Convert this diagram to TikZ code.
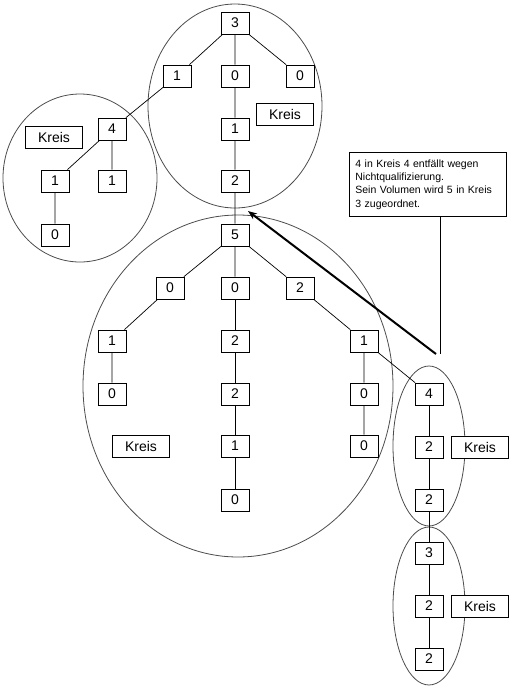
\documentclass[tikz,border=0pt]{standalone}
\usepackage{fontspec}
\setmainfont{Liberation Sans}
\usetikzlibrary{arrows.meta}
\begin{document}
\begin{tikzpicture}[x=1pt, y=-1pt, line width=0.7pt,
	every node/.style={font=\fontsize{14}{16}\selectfont},
	kbox/.style={draw, fill=white, minimum width=28pt, minimum height=22pt, inner sep=0pt},
	kreis/.style={draw, fill=white, minimum width=57pt, minimum height=22pt, inner sep=0pt},
	ring/.style={draw=black!70, line width=0.8pt}]
	% \kbox#name#x#y#value
	\def\kbox#1#2#3#4{
		\node[kbox] (#1) at (#2, #3) {#4};
	}
	
	% \ring#x#y#xradius#yradius
	\def\ring#1#2#3#4{
		\draw[ring] (#1, #2) ellipse [x radius=#3pt, y radius=#4pt];
	}
	
	\useasboundingbox (0, 0) rectangle (514, 689);
	
	% circles
	\ring{235}{106}{87}{102}
	\ring{80}{178}{77}{84}
	\ring{238}{386}{155}{171}
	\ring{429}{446}{36}{80}
	\ring{429}{606}{36}{79}
	
	% top circle
	\kbox{a0}{235}{23}{3}
	\kbox{a1}{177}{76}{1}
	\kbox{a2}{235}{76}{0}
	\kbox{a3}{300}{76}{0}
	\kbox{a4}{235}{129}{1}
	\kbox{a5}{235}{181}{2}
	\node[kreis] (ka) at (285, 114) {Kreis};
	
	% left circle
	\kbox{b0}{112}{129}{4}
	\kbox{b1}{55}{181}{1}
	\kbox{b2}{112}{181}{1}
	\kbox{b3}{55}{235}{0}
	\node[kreis] (kb) at (54, 137) {Kreis};
	
	% big circle
	\kbox{c0}{235}{235}{5}
	\kbox{c1}{170}{288}{0}
	\kbox{c2}{235}{288}{0}
	\kbox{c3}{300}{288}{2}
	\kbox{c4}{112}{341}{1}
	\kbox{c5}{112}{394}{0}
	\kbox{c6}{235}{341}{2}
	\kbox{c7}{235}{394}{2}
	\kbox{c8}{235}{446}{1}
	\kbox{c9}{235}{500}{0}
	\kbox{c10}{364}{341}{1}
	\kbox{c11}{364}{394}{0}
	\kbox{c12}{364}{446}{0}
	\node[kreis] (kc) at (141, 446) {Kreis};
	
	% right ellipses
	\kbox{d0}{429}{394}{4}
	\kbox{d1}{429}{447}{2}
	\kbox{d2}{429}{500}{2}
	\node[kreis] (kd) at (480, 447) {Kreis};
	\kbox{e0}{429}{553}{3}
	\kbox{e1}{429}{606}{2}
	\kbox{e2}{429}{659}{2}
	\node[kreis] (ke) at (480, 606) {Kreis};
	
	% lines
	\draw (a0) -- (a1) (a0) -- (a2) (a0) -- (a3) (a2) -- (a4) (a4) -- (a5) (a5) -- (c0);
	\draw (a1) -- (b0) (b0) -- (b1) (b0) -- (b2) (b1) -- (b3);
	\draw (c0) -- (c1) (c0) -- (c2) (c0) -- (c3) (c1) -- (c4) (c4) -- (c5);
	\draw (c2) -- (c6) (c6) -- (c7) (c7) -- (c8) (c8) -- (c9);
	\draw (c3) -- (c10) (c10) -- (c11) (c11) -- (c12) (c10) -- (d0);
	\draw (d0) -- (d1) (d1) -- (d2) (d2) -- (e0) (e0) -- (e1) (e1) -- (e2);
	
	% note and arrow
	\node[draw, anchor=north west, font=\fontsize{10.5}{13.3}\selectfont, align=left,
		text width=145pt, inner xsep=6pt, inner ysep=5pt, minimum height=64pt] (note) at (349, 152)
		{4 in Kreis 4 entfällt wegen\\Nichtqualifizierung.\\Sein Volumen wird 5 in Kreis\\3 zugeordnet.};
	\coordinate (tip) at (440, 354);
	\draw (note.south -| tip) -- (tip);
	\coordinate (from) at (436, 354);
	\coordinate (to) at (248, 211);
	\draw[-{Stealth[length=9pt, width=7pt]}, line width=2pt] (from) -- (to);
\end{tikzpicture}
\end{document}
